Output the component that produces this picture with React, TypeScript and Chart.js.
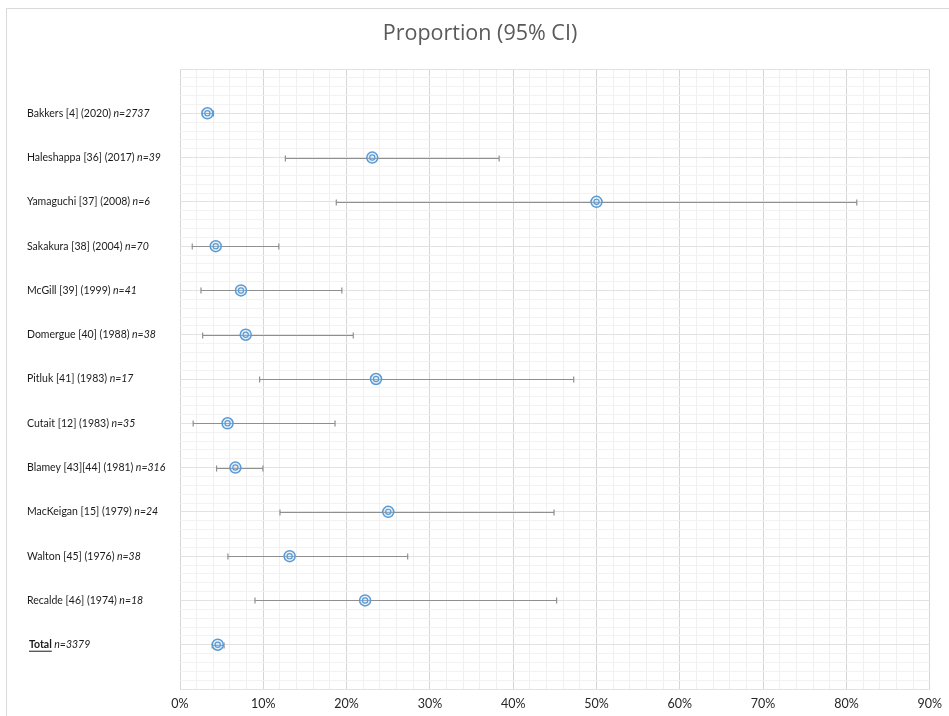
import React, { useEffect, useRef } from "react";
import { Chart, registerables } from "chart.js";

Chart.register(...registerables);

const studyNames = [
  "Bakkers [4] (2020)",
  "Haleshappa [36] (2017)",
  "Yamaguchi [37] (2008)",
  "Sakakura [38] (2004)",
  "McGill [39] (1999)",
  "Domergue [40] (1988)",
  "Pitluk [41] (1983)",
  "Cutait [12] (1983)",
  "Blamey [43][44] (1981)",
  "MacKeigan [15] (1979)",
  "Walton [45] (1976)",
  "Recalde [46] (1974)",
  "Total",
];
const sampleSizes = [2737, 39, 6, 70, 41, 38, 17, 35, 316, 24, 38, 18, 3379];
const proportions = [3.29, 23.08, 50.0, 4.29, 7.32, 7.89, 23.53, 5.71, 6.65, 25.0, 13.16, 22.22, 4.53];
const lowerCI = [2.68, 12.65, 18.76, 1.47, 2.52, 2.72, 9.56, 1.58, 4.39, 12.0, 5.75, 9.0, 3.87];
const upperCI = [4.02, 38.31, 81.24, 11.86, 19.43, 20.8, 47.26, 18.61, 9.95, 44.9, 27.33, 45.21, 5.29];
const xTickLabels = ["0%", "10%", "20%", "30%", "40%", "50%", "60%", "70%", "80%", "90%"];
const chartTitle = "Proportion (95% CI)";

const LABEL_FONT = "Lato, 'Open Sans', sans-serif";

export default function App() {
  const canvasRef = useRef<HTMLCanvasElement | null>(null);

  useEffect(() => {
    const canvas = canvasRef.current;
    if (!canvas) return;

    const rows = studyNames.map((_, i) => i + 1);
    const points = proportions.map((p, i) => ({ x: p, y: rows[i] }));

    const decorPlugin = {
      id: "decor",
      beforeDraw(chart: any) {
        const ctx = chart.ctx;
        ctx.save();
        ctx.fillStyle = "#ffffff";
        ctx.fillRect(0, 0, chart.width, chart.height);
        ctx.strokeStyle = "#d9d9d9";
        ctx.lineWidth = 1;
        ctx.beginPath();
        ctx.moveTo(6.5, chart.height + 5);
        ctx.lineTo(6.5, 8.5);
        ctx.lineTo(chart.width + 5, 8.5);
        ctx.stroke();
        // title
        ctx.fillStyle = "#595959";
        ctx.font = "21.5px 'Open Sans', sans-serif";
        ctx.textAlign = "center";
        ctx.textBaseline = "middle";
        ctx.fillText(chartTitle, 480, 34);
        ctx.restore();
      },
      beforeDatasetsDraw(chart: any) {
        const ctx = chart.ctx;
        const xs = chart.scales.x;
        const ys = chart.scales.y;
        ctx.save();
        ctx.strokeStyle = "#8f8f8f";
        ctx.lineWidth = 1.2;
        lowerCI.forEach((lo, i) => {
          const y = Math.round(ys.getPixelForValue(rows[i])) + 0.5;
          const x1 = xs.getPixelForValue(lo);
          const x2 = xs.getPixelForValue(upperCI[i]);
          ctx.beginPath();
          ctx.moveTo(x1, y);
          ctx.lineTo(x2, y);
          ctx.moveTo(x1, y - 3);
          ctx.lineTo(x1, y + 3);
          ctx.moveTo(x2, y - 3);
          ctx.lineTo(x2, y + 3);
          ctx.stroke();
        });
        ctx.restore();
      },
      afterDraw(chart: any) {
        const ctx = chart.ctx;
        const ys = chart.scales.y;
        ctx.save();
        ctx.fillStyle = "#1a1a1a";
        ctx.textBaseline = "middle";
        ctx.textAlign = "left";
        studyNames.forEach((name, i) => {
          const y = ys.getPixelForValue(rows[i]);
          let x = 27;
          const isTotal = i === studyNames.length - 1;
          if (isTotal) {
            x = 29;
            ctx.font = "bold 10.5px " + LABEL_FONT;
            ctx.fillText(name, x, y);
            const w = ctx.measureText(name).width;
            ctx.fillRect(x, y + 6, w, 1);
            x += w;
          } else {
            ctx.font = "10.5px " + LABEL_FONT;
            ctx.fillText(name, x, y);
            x += ctx.measureText(name).width;
          }
          ctx.font = "italic 10.5px " + LABEL_FONT;
          ctx.fillText(" n=" + sampleSizes[i], x, y);
        });
        ctx.restore();
      },
    };

    const chart = new Chart(canvas, {
      type: "scatter",
      data: {
        datasets: [
          {
            data: points,
            pointRadius: 2.6,
            pointBorderWidth: 1.2,
            pointBorderColor: "#5b9bd5",
            pointBackgroundColor: "rgba(0,0,0,0)",
            pointHoverRadius: 2.6,
          },
          {
            data: points,
            pointRadius: 5.5,
            pointBorderWidth: 1.5,
            pointBorderColor: "#5b9bd5",
            pointBackgroundColor: "rgba(189,215,238,0.35)",
            pointHoverRadius: 5.5,
          },
        ],
      },
      options: {
        animation: false,
        responsive: false,
        layout: { padding: { left: 180, right: 17, top: 69, bottom: 0 } },
        plugins: {
          legend: { display: false },
          tooltip: { enabled: false },
          title: { display: false },
        },
        scales: {
          x: {
            type: "linear",
            min: 0,
            max: 90,
            border: { display: false },
            grid: {
              drawTicks: false,
              color: (c: any) => {
                const v = c.tick ? c.tick.value : 0;
                return Math.abs(v / 10 - Math.round(v / 10)) < 1e-6 ? "#d6d6d6" : "#f0f0f0";
              },
            },
            ticks: {
              stepSize: 2,
              autoSkip: false,
              maxRotation: 0,
              padding: 7,
              color: "#262626",
              font: { family: LABEL_FONT, size: 12.5 },
              callback: (v: any) => {
                const n = Number(v);
                if (Math.abs(n / 10 - Math.round(n / 10)) < 1e-6) {
                  return xTickLabels[Math.round(n / 10)];
                }
                return "";
              },
            },
            afterFit: (s: any) => {
              s.height = 27;
            },
          },
          y: {
            type: "linear",
            min: 0,
            max: 14,
            reverse: true,
            border: { display: false },
            grid: {
              drawTicks: false,
              color: (c: any) => {
                const v = c.tick ? c.tick.value : 0;
                return Math.abs(v - Math.round(v)) < 1e-6 ? "#e2e2e2" : "#f2f2f2";
              },
            },
            ticks: {
              display: false,
              stepSize: 0.2,
              autoSkip: false,
            },
            afterFit: (s: any) => {
              s.width = 0;
            },
          },
        },
      },
      plugins: [decorPlugin],
    });

    return () => {
      chart.destroy();
    };
  }, []);

  return (
    <div style={{ position: "absolute", left: 0, top: 0, width: 949, height: 716, background: "#fff" }}>
      <canvas ref={canvasRef} width={949} height={716} style={{ display: "block" }} />
    </div>
  );
}
